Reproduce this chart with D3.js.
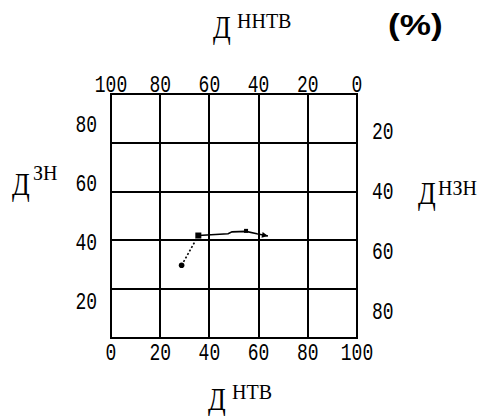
<!DOCTYPE html>
<meta charset="utf-8">
<style>
body { margin: 0; background: #fff; }
.grid line { stroke: #000; stroke-width: 2; shape-rendering: crispEdges; }
.grid rect { fill: none; stroke: #000; stroke-width: 2; shape-rendering: crispEdges; }
.tick text { font-family: "Liberation Mono", monospace; font-size: 18px; fill: #000; }
.title { font-family: "Liberation Serif", serif; fill: #000; }
.curve { fill: none; stroke: #000; stroke-width: 1.6; }
</style>
<svg class="chart"></svg>
<script src="https://d3js.org/d3.v7.min.js"></script>
<script>

// tick labels of the four sides
var bottomTicks = [0, 20, 40, 60, 80, 100];
var topTicks = [100, 80, 60, 40, 20, 0];
var leftTicks = [20, 40, 60, 80];
var rightTicks = [20, 40, 60, 80];

// trajectory (Д нтв, Д зн)
var curveX = [28.7, 35.5, 47.6, 49.2, 54.9, 59.3, 63.8];
var curveY = [29.8, 42.0, 42.7, 43.5, 43.7, 42.7, 41.8];
// marker on each vertex ("" = none)
var curveMarks = ["dot", "square", "", "", "small", "", "arrow"];

var width = 482, height = 416;
var grid = {left: 111, right: 357, top: 94, bottom: 338};

var x = d3.scaleLinear().domain([0, 100]).range([grid.left, grid.right]);
var xTop = d3.scaleLinear().domain([100, 0]).range([grid.left, grid.right]);
var y = d3.scaleLinear().domain([0, 100]).range([grid.bottom, grid.top]);
var yRight = d3.scaleLinear().domain([0, 100]).range([grid.top, grid.bottom]);
// side labels in the original are spread a little wider than the grid lines
var yLab = d3.scaleLinear().domain([20, 80]).range([y(20) + 13, y(80) - 18]);
var yRightLab = d3.scaleLinear().domain([20, 80]).range([yRight(20) - 11, yRight(80) + 23]);

var svg = d3.select(".chart")
	.attr("width", width)
	.attr("height", height);

var g = svg.append("g").attr("class", "grid");
g.selectAll("line.v")
	.data(bottomTicks.slice(1, -1))
	.enter().append("line")
		.attr("class", "v")
		.attr("x1", function(d){return x(d);})
		.attr("x2", function(d){return x(d);})
		.attr("y1", grid.top)
		.attr("y2", grid.bottom);
g.selectAll("line.h")
	.data(leftTicks)
	.enter().append("line")
		.attr("class", "h")
		.attr("x1", grid.left)
		.attr("x2", grid.right)
		.attr("y1", function(d){return y(d);})
		.attr("y2", function(d){return y(d);});
g.append("rect")
	.attr("x", grid.left).attr("y", grid.top)
	.attr("width", grid.right - grid.left)
	.attr("height", grid.bottom - grid.top);

// stretched digits like the original bitmap font
function label(sel, px, py, anchor) {
	sel.attr("transform", function(d){return "translate(" + px(d) + "," + py(d) + ") scale(1,1.3)";})
		.attr("text-anchor", anchor)
		.text(function(d){return d;});
}

var ticks = svg.append("g").attr("class", "tick");
ticks.selectAll("text.b").data(bottomTicks).enter().append("text")
	.call(label, function(d){return x(d);}, function(){return grid.bottom + 22;}, "middle");
ticks.selectAll("text.t").data(topTicks).enter().append("text")
	.call(label, function(d){return xTop(d);}, function(){return grid.top - 2;}, "middle");
ticks.selectAll("text.l").data(leftTicks).enter().append("text")
	.call(label, function(){return grid.left - 14;}, function(d){return yLab(d) + 7;}, "end");
ticks.selectAll("text.r").data(rightTicks).enter().append("text")
	.call(label, function(){return grid.right + 15;}, function(d){return yRightLab(d) + 7;}, "start");

// titles: Д with superscript
function title(px, py, sup, supDx, supDy) {
	svg.append("text").attr("class", "title")
		.attr("transform", "translate(" + px + "," + py + ") scale(1,1.2)")
		.style("font-size", "26px")
		.text("Д");
	svg.append("text").attr("class", "title")
		.attr("x", px + supDx).attr("y", py + supDy)
		.style("font-size", "20px")
		.text(sup);
}
title(213, 38, "ННТВ", 24, -10);
title(12, 195, "ЗН", 21, -15);
title(418, 204, "НЗН", 20, -9);
title(208, 410, "НТВ", 24, -11);

svg.append("text")
	.attr("transform", "translate(388,35) scale(1.35,1.1)")
	.style("font-family", "'Liberation Sans', sans-serif")
	.style("font-weight", "bold")
	.style("font-size", "26px")
	.text("(%)");

// trajectory
var pts = curveX.map(function(d, i){return [x(d), y(curveY[i])];});
var line = d3.line();
svg.append("path").attr("class", "curve")
	.attr("stroke-dasharray", "2,2")
	.attr("d", line(pts.slice(0, 2)));
svg.append("path").attr("class", "curve")
	.attr("d", line(pts.slice(1)));

var marks = svg.append("g");
pts.forEach(function(p, i){
	var m = curveMarks[i];
	if (m == "dot") {
		marks.append("circle").attr("cx", p[0]).attr("cy", p[1]).attr("r", 2.8);
	} else if (m == "square") {
		marks.append("rect").attr("x", p[0] - 3).attr("y", p[1] - 3).attr("width", 6).attr("height", 6);
	} else if (m == "small") {
		marks.append("rect").attr("x", p[0] - 2).attr("y", p[1] - 2.5).attr("width", 4).attr("height", 4);
	} else if (m == "arrow") {
		var q = pts[i - 1];
		var a = Math.atan2(p[1] - q[1], p[0] - q[0]) * 180 / Math.PI;
		marks.append("path")
			.attr("d", "M0,0L-6,-3L-6,3Z")
			.attr("transform", "translate(" + p[0] + "," + p[1] + ") rotate(" + a + ")");
	}
});
</script>
